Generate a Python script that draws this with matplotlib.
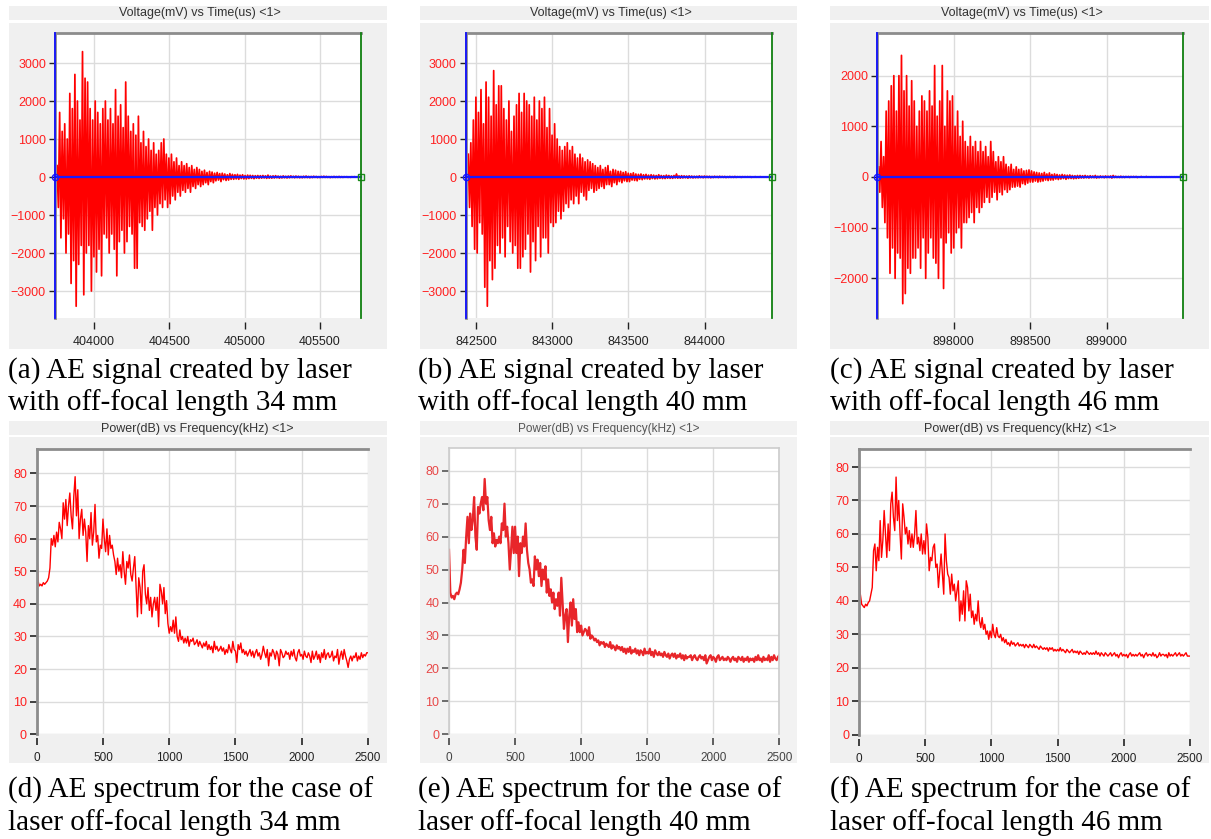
import numpy as np
import matplotlib
matplotlib.use("Agg")
import matplotlib.pyplot as plt
from matplotlib.patches import Rectangle

# ---------------- DATA ----------------
# AE waveforms (mV), uniformly sampled between start and end time (us)
wave_a_t = (403755, 405770)
wave_a = [
    300, -800, 1700, -1600, 1200, -1100, 1400, -2000, 1000, -1500, 2200, -2800, 1800, -2200, 2700, -3400, 2000, -2300, 1500, -1800,
    3300, -3100, 2600, -2000, 2500, -1800, 1800, -3000, 1500, -2100, 2000, -2500, 1700, -1900, 1400, -2600, 1800, -1500, 2000, -1600,
    1500, -2000, 1800, -1500, 1400, -1900, 2300, -2600, 1600, -1700, 1900, -1400, 1300, -2000, 2500, -1700, 1600, -1300, 1200, -1500,
    1400, -2400, 1100, -2400, 1600, -1200, 900, -1300, 1200, -1400, 800, -1100, 1000, -900, 700, -1400, 900, -800, 600, -1000,
    700, -700, 900, -800, 1000, -600, 600, -800, 500, -700, 600, -500, 400, -600, 500, -400, 300, -500, 400, -350,
    300, -400, 350, -300, 250, -400, 300, -250, 200, -300, 250, -200, 200, -250, 150, -200, 180, -150, 120, -200,
    150, -120, 130, -150, 100, -100, 120, -80, 90, -120, 100, -70, 80, -90, 60, -80, 90, -60, 70, -60,
    60, -50, 70, -60, 50, -40, 60, -50, 40, -50, 50, -40, 45, -35, 40, -45, 35, -30, 40, -35,
    35, -30, 40, -25, 30, -35, 50, -30, 25, -30, 30, -25, 35, -20, 25, -30, 20, -25, 30, -20,
    20, -25, 25, -20, 30, -15, 20, -20, 25, -15, 20, -20, 15, -20, 20, -15, 25, -15, 15, -20,
    15, -15, 20, -10, 15, -15, 10, -15, 15, -10, 20, -10, 15, -10, 10, -15, 10, -10, 15, -10,
    10, -10, 15, -10, 10, -10, 10, -5, 10, -10, 5, -10, 10, -5, 10, -5, 5, -5, 5, 0,
]
wave_b_t = (842449, 844440)
wave_b = [
    600, -800, 900, -1300, 1500, -1900, 2100, -2000, 1700, -1200, 2300, -1500, 1400, -2900, 2500, -3400, 2100, -2200, 1600, -2700,
    2800, -2400, 1900, -1800, 2400, -2000, 2400, -1600, 1800, -2100, 1500, -1300, 2000, -1700, 1200, -2000, 1600, -1800, 1900, -2400,
    2200, -2400, 1700, -2100, 2200, -1900, 2000, -1500, 1900, -2500, 1600, -1700, 2100, -2200, 1500, -1300, 2000, -2100, 1800, -1600,
    2100, -1600, 1300, -2000, 1800, -1200, 1100, -1300, 1400, -1200, 1000, -900, 800, -1100, 700, -900, 800, -700, 900, -800,
    700, -600, 800, -700, 600, -500, 500, -700, 600, -400, 500, -500, 400, -600, 450, -350, 400, -300, 350, -400,
    300, -350, 250, -300, 300, -250, 200, -300, 250, -200, 300, -200, 150, -250, 200, -150, 180, -200, 150, -120,
    150, -150, 120, -100, 140, -120, 100, -120, 90, -80, 110, -90, 80, -100, 70, -60, 80, -70, 60, -50,
    70, -50, 50, -60, 60, -40, 50, -50, 40, -45, 60, -35, 40, -40, 35, -40, 50, -30, 40, -35,
    30, -35, 40, -25, 80, -30, 30, -30, 35, -25, 30, -20, 25, -30, 30, -20, 25, -25, 20, -20,
    20, -20, 30, -15, 20, -20, 25, -15, 20, -15, 20, -20, 15, -15, 20, -10, 15, -15, 20, -10,
    15, -10, 15, -15, 10, -10, 15, -10, 10, -10, 15, -10, 10, -5, 10, -10, 10, -5, 10, -5,
    10, -5, 10, -10, 5, -5, 10, -5, 5, -5, 10, -5, 5, -5, 5, -5, 5, -5, 5, 0,
]
wave_c_t = (897508, 899500)
wave_c = [
    200, -300, 700, -600, 400, -900, 1300, -1200, 1500, -1900, 1800, -1400, 2000, -2000, 1300, -1500, 2000, -1600, 2400, -2500,
    1700, -2300, 2000, -1800, 1400, -1900, 1900, -1600, 1500, -1600, 1000, -1400, 1300, -1800, 1600, -1200, 1500, -2000, 1300, -1500,
    1700, -1200, 1400, -1600, 2200, -1700, 1200, -2000, 1500, -1200, 2200, -2200, 1000, -1300, 1700, -1100, 1500, -1500, 1600, -1400,
    1000, -1100, 1300, -1000, 800, -1400, 1100, -900, 700, -900, 600, -800, 800, -700, 600, -900, 700, -600, 500, -700,
    700, -600, 500, -500, 600, -400, 400, -500, 700, -400, 500, -300, 300, -450, 400, -300, 300, -350, 400, -250,
    250, -300, 200, -250, 250, -200, 150, -200, 200, -180, 150, -200, 160, -130, 120, -150, 130, -120, 140, -100,
    120, -100, 100, -80, 90, -100, 80, -90, 70, -80, 90, -60, 60, -70, 80, -60, 50, -60, 60, -40,
    50, -50, 40, -40, 50, -30, 40, -45, 35, -30, 40, -30, 30, -35, 25, -30, 30, -25, 30, -20,
    25, -20, 30, -15, 20, -20, 25, -15, 20, -15, 30, -20, 15, -15, 20, -10, 15, -15, 20, -10,
    15, -10, 20, -20, 30, -10, 15, -10, 10, -10, 15, -10, 10, -10, 10, -5, 10, -10, 10, -5,
    10, -5, 10, -10, 5, -5, 10, -5, 5, -5, 10, -5, 5, -5, 5, -5, 5, -5, 5, -5,
    5, -5, 5, -5, 5, -5, 5, -5, 5, -5, 5, -5, 5, -5, 5, -5, 5, -5, 5, 0,
]

# AE spectra (dB) on a 10 kHz grid from 0 to 2500 kHz
freq_khz = np.arange(0, 2501, 10)
spec_d = [
    58, 47, 45.5, 46, 45.5, 46.5, 46, 46.5, 47, 48,
    51, 60, 58, 61, 57.5, 62, 59, 65, 63, 60,
    71, 66, 72, 64, 70, 74, 67, 63, 73, 79,
    67, 75, 60, 66, 69, 61, 66, 62, 53, 64,
    60, 68, 58, 62, 70.5, 59, 61, 54, 58, 57,
    66, 60, 56, 63, 55, 61, 57, 58, 55, 53,
    49, 54, 50, 52, 48, 56, 50, 46, 53, 51,
    55, 49, 47, 51, 54.5, 45, 36, 48, 45, 37,
    50, 52, 43, 40, 45, 38, 42, 36, 40, 42,
    38, 42, 33, 46, 44, 40, 45, 37, 41, 34,
    31, 33, 31.5, 35, 31, 36, 30, 28.5, 32, 29,
    30, 28, 29.5, 28, 30, 27, 29, 28.5, 29.5, 27.5,
    28, 29, 27, 28.5, 27.5, 26.5, 28, 27, 28.5, 26,
    27.5, 26, 27, 25, 28.5, 26, 27, 25.5, 26, 27,
    25.5, 26.5, 24.5, 26, 25, 27.5, 26, 25, 28.5, 26,
    25.5, 22, 27.5, 26, 28, 25, 26, 24.5, 25.5, 24,
    25, 26, 24, 25.5, 23.5, 25, 26, 24, 25, 23,
    24.5, 27, 25, 23.5, 26, 21, 25, 24, 26, 25,
    23, 25.5, 24.5, 21, 26, 25, 23.5, 24, 25.5, 24.5,
    25, 23, 25.5, 24, 26, 23.5, 22.5, 25, 26, 24,
    24.5, 23, 25.5, 24, 23.5, 25, 24, 22, 25.5, 23,
    24, 25.5, 23, 24.5, 22, 25, 23.5, 26, 23, 24.5,
    25, 23.5, 24, 25.5, 22.5, 24, 23.5, 26, 21.5, 24,
    25.5, 23, 26, 24, 22.5, 20.5, 23, 24, 22.5, 24,
    23.5, 25, 22.5, 24, 23, 25, 23.5, 24.5, 24, 25,
    25,
]
spec_e = [
    56, 43, 41.5, 42, 41, 42.5, 43, 42.5, 44, 46,
    50, 56, 52, 60, 66, 58, 67, 62, 65, 72,
    60, 56, 69, 67, 70, 72, 68, 77.5, 70, 72,
    65, 62, 66, 58, 61, 57, 59, 58, 60, 58,
    64, 62, 70, 60, 63, 58, 50, 56, 63, 55,
    63, 55, 60, 48, 58, 55, 60, 57, 64, 56,
    52, 50, 46, 47, 45, 54, 50, 53, 48, 52,
    45, 50, 47, 51, 43, 47, 42, 44, 40, 43,
    38, 41, 39, 43, 36, 47.5, 40, 32, 36, 38,
    28, 36, 40, 33, 41, 35, 38, 31, 34, 31,
    33, 30, 31, 32, 31.5, 30, 32.5, 29, 30, 29.5,
    28.5, 29, 28, 28.5, 27, 28, 27.5, 28, 26.5, 27.5,
    27, 26.5, 28, 26, 27, 26.5, 25.5, 27, 26, 26.5,
    25.5, 26.5, 25, 26, 24.5, 26, 25, 26.5, 24.5, 25.5,
    25, 26, 24.5, 25.5, 24, 25.5, 25, 24, 26, 24.5,
    25, 24.5, 26, 24, 25, 23.5, 25.5, 24.5, 24, 25,
    24, 24.5, 23.5, 25, 24, 23.5, 24.5, 23, 24, 24.5,
    23.5, 24.5, 23, 24, 23.5, 24.5, 23, 24, 22.5, 24,
    23, 23.5, 23.5, 24, 22.5, 23.5, 24, 23, 22.5, 23.5,
    24, 23, 23.5, 22.5, 24, 21.5, 22.5, 23.5, 24, 22.5,
    23.5, 23, 22, 23.5, 24, 22.5, 23, 23.5, 22.5, 23,
    22.5, 23.5, 23, 22, 23, 23.5, 22.5, 23, 22, 23.5,
    23, 22.5, 23.5, 22, 23, 22.5, 23.5, 22, 23, 22.5,
    23, 22, 23.5, 22.5, 24, 22.5, 23, 22, 23.5, 22.5,
    23, 22.5, 24, 22, 23.5, 22.5, 24, 23, 22.5, 23.5,
    24,
]
spec_f = [
    54, 42, 39, 38.5, 38, 39, 38.5, 39.5, 40, 42,
    44, 55, 57, 49, 56, 52, 64, 53, 58, 67,
    60, 53, 63, 55, 69, 72.5, 65, 61, 77, 64,
    70, 60, 52.5, 69, 65, 60, 62, 57, 61, 56,
    60, 56, 60, 67, 57, 59, 55, 60, 54, 58,
    54, 63, 59, 49, 53, 52, 56, 57, 50, 51,
    44, 49, 54, 48, 42, 60, 52, 48, 47, 42,
    48, 43, 45, 40, 43, 46, 34, 40, 36, 43,
    34, 46, 44, 37, 42, 35, 37, 33, 36, 34,
    40, 34, 32, 35, 31.5, 33, 30, 31, 28.5, 31,
    29, 33, 30, 29, 32, 29.5, 29, 30, 28, 29,
    27.5, 28.5, 27, 27.5, 26.5, 28, 27, 27.5, 26.5, 27,
    27.5, 26.5, 27, 26.5, 27, 26, 27, 26.5, 26, 27,
    26.5, 26, 27, 26, 26.5, 26, 25.5, 26.5, 26, 25.5,
    26, 25.5, 26, 25, 26, 25.5, 26, 25, 25.5, 25,
    25.5, 25, 26, 25, 25.5, 25, 24.5, 25.5, 25, 24.5,
    25, 25.5, 24.5, 25, 24.5, 25, 24, 25, 24.5, 24,
    24.5, 24, 25, 24.5, 24, 24.5, 24, 24.5, 24, 25,
    24, 24.5, 23.5, 24.5, 24, 23.5, 24.5, 24, 23.5, 24,
    24.5, 23.5, 24, 24.5, 23.5, 24, 23, 24, 24.5, 23.5,
    24, 23.5, 24, 23, 24, 24.5, 23.5, 24, 23.5, 24,
    23.5, 24, 24.5, 23.5, 24, 23, 24, 24.5, 23.5, 24,
    24, 23.5, 24.5, 23.5, 24, 23, 23.5, 24.5, 23.5, 24,
    24, 23.5, 24, 23, 24.5, 23.5, 24, 23.5, 24, 24.5,
    23.5, 24, 24.5, 23.5, 24, 23.5, 24, 24.5, 23.5, 23.5,
    23.5,
]

wave_titles = "Voltage(mV) vs Time(us) <1>"
spec_titles = "Power(dB) vs Frequency(kHz) <1>"
captions = [
    ("(a) AE signal created by laser", "with off-focal length 34 mm"),
    ("(b) AE signal created by laser", "with off-focal length 40 mm"),
    ("(c) AE signal created by laser", "with off-focal length 46 mm"),
    ("(d) AE spectrum for the case of", "laser off-focal length 34 mm"),
    ("(e) AE spectrum for the case of", "laser off-focal length 40 mm"),
    ("(f) AE spectrum for the case of", "laser off-focal length 46 mm"),
]
wave_xticks = [[404000, 404500, 405000, 405500],
               [842500, 843000, 843500, 844000],
               [898000, 898500, 899000]]
wave_yticks = [[-3000, -2000, -1000, 0, 1000, 2000, 3000],
               [-3000, -2000, -1000, 0, 1000, 2000, 3000],
               [-2000, -1000, 0, 1000, 2000]]
spec_xticks = [0, 500, 1000, 1500, 2000, 2500]
spec_yticks = [0, 10, 20, 30, 40, 50, 60, 70, 80]

# ---------------- LAYOUT ----------------
W, H = 1211, 839
fig = plt.figure(figsize=(W / 100, H / 100), dpi=100)
fig.patch.set_facecolor("white")
SANS = ["Liberation Sans", "DejaVu Sans"]
SERIF = ["Liberation Serif", "DejaVu Serif"]


def fig_rect(l, t, r, b, color, z=-5):
    fig.add_artist(Rectangle((l / W, 1 - b / H), (r - l) / W, (b - t) / H,
                             transform=fig.transFigure, facecolor=color,
                             edgecolor="none", zorder=z))


def px_axes(l, t, r, b):
    return fig.add_axes([l / W, 1 - b / H, (r - l) / W, (b - t) / H])


top_cfg = [
    dict(ax=(55, 33, 361, 318), box=(9, 23, 387, 349), strip=(9, 6, 387, 20), tx=200,
         xlim=(403741, 405772), ylim=(-3710, 3790)),
    dict(ax=(465.7, 33, 771.7, 318), box=(420, 23, 797, 349), strip=(420, 6, 797, 20), tx=611,
         xlim=(842432, 844440), ylim=(-3710, 3790)),
    dict(ax=(877.3, 33, 1183.3, 318), box=(830, 23, 1209, 349), strip=(830, 6, 1209, 20), tx=1022,
         xlim=(897500, 899500), ylim=(-2783, 2842)),
]
bot_cfg = [
    dict(ax=(36.7, 449.3, 368, 734.3), box=(9, 437, 387, 763), strip=(9, 421, 387, 435), tx=197,
         ylim=(0, 87.4), soft=False),
    dict(ax=(449, 448.3, 779.3, 734.3), box=(420, 437, 797, 763), strip=(420, 421, 797, 435), tx=609,
         ylim=(0, 86.8), soft=True),
    dict(ax=(859, 449.3, 1190, 734.7), box=(830, 437, 1209, 763), strip=(830, 421, 1209, 435), tx=1020,
         ylim=(0, 85.3), soft=False),
]
waves = [(wave_a_t, wave_a), (wave_b_t, wave_b), (wave_c_t, wave_c)]
specs = [spec_d, spec_e, spec_f]
cap_x = [8, 418, 830]

GRID = "#dcdcdc"
SPINE = "#8c8c8c"

for i, cfg in enumerate(top_cfg):
    fig_rect(*cfg["box"], "#f0f0f0")
    fig_rect(*cfg["strip"], "#f0f0f0")
    fig.text(cfg["tx"] / W, 1 - 13 / H, wave_titles, ha="center", va="center",
             fontsize=9, color="#333333", family=SANS)
    ax = px_axes(*cfg["ax"])
    ax.set_facecolor("white")
    (t0, t1), vals = waves[i]
    t = np.linspace(t0, t1, len(vals))
    ax.plot(t, vals, color="#ff0000", lw=1.25, zorder=2)
    x0, x1 = cfg["xlim"]
    ax.plot([x0, x1], [0, 0], color="#1a1aff", lw=1.6, zorder=3, clip_on=False)
    ax.plot([x0], [0], marker="o", ms=4.5, mfc="none", mec="#1a1aff", mew=1, zorder=4, clip_on=False)
    ax.plot([x1], [0], marker="s", ms=4.5, mfc="none", mec="#1a8a1a", mew=1, zorder=4, clip_on=False)
    ax.axvline(x0, color="#1010ff", lw=1.3, zorder=4, clip_on=False)
    ax.axvline(x1, color="#108010", lw=1.3, zorder=4, clip_on=False)
    ax.set_xlim(*cfg["xlim"])
    ax.set_ylim(*cfg["ylim"])
    ax.set_xticks(wave_xticks[i])
    ax.set_yticks(wave_yticks[i])
    ax.grid(True, color=GRID, lw=1)
    ax.set_axisbelow(True)
    for s in ["right", "bottom"]:
        ax.spines[s].set_visible(False)
    ax.spines["bottom"].set_position(("outward", 3))
    ax.spines["top"].set_color(SPINE)
    ax.spines["top"].set_linewidth(2)
    ax.spines["left"].set_color(SPINE)
    ax.spines["left"].set_linewidth(2)
    ax.tick_params(axis="y", direction="out", length=4.5, width=1, color="#222222",
                   labelcolor="#ff2020", labelsize=9, pad=2)
    ax.tick_params(axis="x", direction="out", length=5, width=1, color="#222222",
                   labelcolor="#222222", labelsize=9, pad=5)
    for lab in ax.get_xticklabels() + ax.get_yticklabels():
        lab.set_family(SANS)
    l1, l2 = captions[i]
    fig.text(cap_x[i] / W, 1 - 378 / H, l1, ha="left", va="baseline", fontsize=21,
             family=SERIF, color="black")
    fig.text(cap_x[i] / W, 1 - 410 / H, l2, ha="left", va="baseline", fontsize=21,
             family=SERIF, color="black")

for i, cfg in enumerate(bot_cfg):
    soft = cfg["soft"]
    fig_rect(*cfg["box"], "#f2f2f2" if soft else "#f0f0f0")
    fig_rect(*cfg["strip"], "#f2f2f2" if soft else "#f0f0f0")
    fig.text(cfg["tx"] / W, 1 - 429 / H, spec_titles, ha="center", va="center",
             fontsize=8.5 if soft else 9, color="#555555" if soft else "#333333", family=SANS)
    ax = px_axes(*cfg["ax"])
    ax.set_facecolor("white")
    ax.plot(freq_khz, specs[i], color="#e8262a" if soft else "#ff0000",
            lw=1.6 if soft else 1.0, zorder=2)
    ax.set_xlim(0, 2500)
    ax.set_ylim(*cfg["ylim"])
    ax.set_xticks(spec_xticks)
    ax.set_yticks(spec_yticks)
    ax.grid(True, color=GRID, lw=1)
    ax.set_axisbelow(True)
    ax.spines["bottom"].set_visible(False)
    ax.spines["bottom"].set_position(("outward", 3))
    if soft:
        for s in ["top", "right", "left"]:
            ax.spines[s].set_color("#cccccc")
            ax.spines[s].set_linewidth(1.2)
    else:
        ax.spines["right"].set_visible(False)
        for s in ["top", "left"]:
            ax.spines[s].set_color(SPINE)
            ax.spines[s].set_linewidth(2)
    ax.tick_params(axis="y", direction="out", length=5, width=1.2,
                   color="#555555" if soft else "#222222",
                   labelcolor="#e84848" if soft else "#ff2020", labelsize=9, pad=2)
    ax.tick_params(axis="x", direction="out", length=5, width=1.2,
                   color="#444444" if soft else "#222222",
                   labelcolor="#444444" if soft else "#222222", labelsize=8.5, pad=5)
    for lab in ax.get_xticklabels() + ax.get_yticklabels():
        lab.set_family(SANS)
    l1, l2 = captions[3 + i]
    fig.text(cap_x[i] / W, 1 - 798 / H, l1, ha="left", va="baseline", fontsize=21,
             family=SERIF, color="black")
    fig.text(cap_x[i] / W, 1 - 830 / H, l2, ha="left", va="baseline", fontsize=21,
             family=SERIF, color="black")

fig.savefig("out.png", dpi=100, facecolor="white")
